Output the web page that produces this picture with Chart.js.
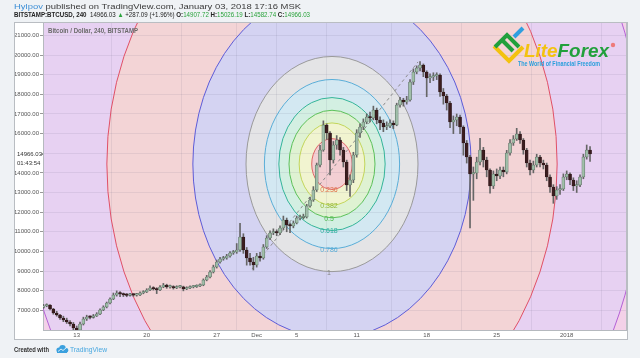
<!DOCTYPE html>
<html>
<head>
<meta charset="utf-8">
<script src="https://cdn.jsdelivr.net/npm/chart.js@4.4.1/dist/chart.umd.min.js"></script>
<style>
  html, body { margin: 0; padding: 0; background: #eff2f5; }
</style>
</head>
<body>
<canvas id="btcChart" width="640" height="358"></canvas>
<script>
// BTCUSD, 8h candles. x values are days since Nov 1 2017
const firstDay = 8.667;
const candleStep = 1 / 3;
const firstOpen = 7150;

const closes = [
  7219, 7270, 7066, 6862, 6760, 6608, 6506, 6404, 6302, 6098,
  5996, 6302, 6557, 6659, 6640, 6710, 6811, 7015, 7168, 7372,
  7576, 7779, 7881, 7830, 7779, 7760, 7790, 7770, 7780, 7881,
  7932, 8034, 8136, 8085, 8034, 8187, 8289, 8187, 8200, 8136,
  8187, 8200, 8085, 8136, 8187, 8200, 8238, 8289, 8543, 8696,
  8951, 9206, 9460, 9613, 9664, 9766, 9919, 9970, 10072, 10734,
  10072, 9664, 9460, 9308, 9766, 9664, 10224, 10683, 10938, 10989,
  10938, 11192, 11600, 11345, 11294, 11447, 11702, 11720, 11753, 12313,
  12619, 13128, 14402, 15166, 16440, 16032, 14657, 15421, 15675, 15166,
  14555, 13383, 13638, 14911, 16032, 16338, 16592, 16847, 16796, 17204,
  16694, 16541, 16338, 16389, 16541, 16440, 17458, 17713, 17611, 17713,
  18630, 19139, 19343, 19496, 19139, 18834, 18885, 18936, 18987, 18121,
  17917, 17560, 16592, 16694, 16847, 16338, 15522, 14809, 13943, 13994,
  14555, 15166, 14657, 14147, 13332, 13943, 13841, 14147, 14045, 15013,
  15522, 15726, 15981, 15675, 15166, 14504, 14147, 14402, 14809, 14504,
  14402, 13790, 13281, 12822, 13128, 13179, 13790, 13943, 13638, 13332,
  13383, 13790, 14809, 15166, 14966
];
const highs = [
  7300, 7330, 7290, 7100, 6950, 6800, 6700, 6600, 6480, 6380,
  6200, 6400, 6650, 6750, 6720, 6790, 6880, 7080, 7230, 7420,
  7640, 7880, 7990, 7950, 7880, 7850, 7860, 7840, 7860, 7940,
  8000, 8100, 8250, 8200, 8150, 8260, 8370, 8330, 8280, 8250,
  8250, 8270, 8230, 8200, 8240, 8260, 8300, 8350, 8600, 8780,
  9020, 9300, 9560, 9700, 9750, 9850, 9990, 10050, 10400, 11430,
  10900, 10200, 9900, 9700, 9900, 9950, 10350, 10800, 11050, 11150,
  11100, 11300, 11800, 11700, 11450, 11550, 11800, 11850, 11900, 12400,
  12750, 13300, 14500, 15400, 16650, 16500, 16100, 15600, 15900, 15800,
  15300, 14650, 13900, 15050, 16200, 16500, 16750, 17000, 17100, 17400,
  17300, 16850, 16700, 16600, 16700, 16650, 17550, 17850, 17800, 17900,
  18750, 19300, 19450, 19666, 19550, 19200, 19050, 19100, 19100, 19050,
  18300, 18000, 17650, 16900, 17000, 16950, 16400, 15650, 14900, 14300,
  14800, 15760, 15300, 14800, 14200, 14100, 14200, 14300, 14300, 15150,
  15700, 15900, 16270, 16100, 15750, 15250, 14650, 14600, 14950, 14900,
  14650, 14500, 13900, 13400, 13300, 13400, 13950, 14100, 14000, 13750,
  13600, 13900, 14950, 15420, 15334
];
const lows = [
  7100, 7180, 7020, 6800, 6700, 6540, 6420, 6330, 6200, 5950,
  5700, 5900, 6250, 6480, 6560, 6600, 6680, 6780, 6980, 7120,
  7330, 7540, 7720, 7700, 7700, 7690, 7720, 7710, 7720, 7750,
  7840, 7900, 8000, 8030, 7850, 8000, 8150, 8120, 8130, 8080,
  8100, 8140, 7990, 8050, 8100, 8140, 8160, 8200, 8250, 8500,
  8650, 8900, 9150, 9400, 9550, 9600, 9700, 9850, 9900, 10000,
  9900, 9300, 9300, 9050, 9200, 9500, 9600, 10150, 10600, 10850,
  10800, 10850, 11100, 11000, 10950, 11200, 11400, 11600, 11650, 11700,
  12250, 12550, 13050, 14300, 15100, 15700, 13900, 14500, 15200, 14900,
  14300, 13100, 12800, 13500, 14800, 15800, 16200, 16500, 16600, 16700,
  16500, 16200, 16100, 16200, 16300, 16250, 16400, 17350, 17400, 17500,
  17650, 18500, 19050, 19200, 18900, 17880, 18600, 18700, 18750, 17900,
  17500, 17200, 16300, 16000, 16400, 16000, 14900, 14500, 11200, 12600,
  13700, 14400, 14300, 13800, 12960, 13200, 13600, 13700, 13800, 13950,
  14900, 15400, 15650, 15500, 14950, 14300, 13900, 14000, 14300, 14300,
  14200, 13600, 13000, 12450, 12650, 12900, 13100, 13650, 13400, 13100,
  13000, 13300, 13700, 14700, 14580
];

const tickDays = [12, 19, 26, 30, 34, 40, 47, 54, 61];
const tickLabels = ['13', '20', '27', 'Dec', '5', '11', '18', '25', '2018'];
const priceTicks = [7000, 8000, 9000, 10000, 11000, 12000, 13000, 14000, 15000, 16000, 17000, 18000, 19000, 20000, 21000];
const lastPrice = 14966.03;

// fib circles: center (day, price), unit radius (days, price)
const fibLevels = [0.236, 0.382, 0.5, 0.618, 0.786, 1, 1.618, 2.618, 3.618, 4.236];
const fibLabels = ['0.236', '0.382', '0.5', '0.618', '0.786', '1', '1.618', '2.618', '3.618', '4.236'];
const fibLineColors = ['#e06666', '#c3d65a', '#5cc15a', '#35b59a', '#5aaed8', '#9a9a9a', '#5e5cd8', '#e05068', '#b460d6', '#e060a8'];
const fibFillColors = ['#f3cfd3', '#f1f4d0', '#dff2d2', '#d3efe2', '#d3e8f2', '#e4e4e6', '#d4d3f2', '#f3d4d6', '#e7d1f2', '#f3d1e8'];
const fibTextColors = ['#e0704a', '#93b83c', '#4bb84a', '#2fb0a0', '#5aaed8', '#888888', '#5e5cd8', '#e05068', '#b460d6', '#e060a8'];
const fibCenter = [37.53, 14450];
const fibRadius = [8.6, 5480];
const trendLine = [[29.53, 9100], [46.13, 19650]];

const upColor = '#a0bea9';
const downColor = '#3b1d1f';
const wickColor = '#666666';
const gridColor = 'rgba(90, 90, 120, 0.10)';
const fontFamily = '"Liberation Sans", Arial, sans-serif';

const candleX = closes.map((c, i) => firstDay + i * candleStep);
const opens = closes.map((c, i) => i === 0 ? firstOpen : closes[i - 1]);

function drawRuns(ctx, runs, x0, y, width) {
  let total = 0;
  runs.forEach(r => { ctx.font = r[1]; total += ctx.measureText(r[0]).width; });
  const k = width / total;
  ctx.save();
  ctx.translate(x0, y);
  ctx.scale(k, 1);
  ctx.textBaseline = 'alphabetic';
  ctx.textAlign = 'left';
  let x = 0;
  runs.forEach(r => {
    ctx.font = r[1];
    ctx.fillStyle = r[2];
    ctx.fillText(r[0], x, 0);
    x += ctx.measureText(r[0]).width;
  });
  ctx.restore();
}

const fibPlugin = {
  id: 'fibCircles',
  beforeDraw(chart) {
    const ctx = chart.ctx, a = chart.chartArea;
    const xs = chart.scales.x, ys = chart.scales.y;
    ctx.save();
    ctx.fillStyle = '#eff2f5';
    ctx.fillRect(0, 0, chart.width, chart.height);
    ctx.fillStyle = '#ffffff';
    ctx.fillRect(14, 22, 614, 318);
    ctx.beginPath();
    ctx.rect(a.left, a.top, a.right - a.left, a.bottom - a.top);
    ctx.clip();
    const cx = xs.getPixelForValue(fibCenter[0]);
    const cy = ys.getPixelForValue(fibCenter[1]);
    const rx = xs.getPixelForValue(fibCenter[0] + fibRadius[0]) - cx;
    const ry = cy - ys.getPixelForValue(fibCenter[1] + fibRadius[1]);
    for (let k = fibLevels.length - 1; k >= 0; k--) {
      ctx.beginPath();
      ctx.ellipse(cx, cy, rx * fibLevels[k], ry * fibLevels[k], 0, 0, Math.PI * 2);
      ctx.fillStyle = fibFillColors[k];
      ctx.fill();
    }
    ctx.restore();
  },
  beforeDatasetsDraw(chart) {
    const ctx = chart.ctx, a = chart.chartArea;
    const xs = chart.scales.x, ys = chart.scales.y;
    const cx = xs.getPixelForValue(fibCenter[0]);
    const cy = ys.getPixelForValue(fibCenter[1]);
    const rx = xs.getPixelForValue(fibCenter[0] + fibRadius[0]) - cx;
    const ry = cy - ys.getPixelForValue(fibCenter[1] + fibRadius[1]);
    ctx.save();
    ctx.beginPath();
    ctx.rect(a.left, a.top, a.right - a.left, a.bottom - a.top);
    ctx.clip();
    ctx.lineWidth = 1;
    for (let k = 0; k < fibLevels.length; k++) {
      ctx.beginPath();
      ctx.ellipse(cx, cy, rx * fibLevels[k], ry * fibLevels[k], 0, 0, Math.PI * 2);
      ctx.strokeStyle = fibLineColors[k];
      ctx.stroke();
    }
    // trend line
    ctx.setLineDash([3, 3]);
    ctx.strokeStyle = '#8c8c8c';
    ctx.beginPath();
    ctx.moveTo(xs.getPixelForValue(trendLine[0][0]), ys.getPixelForValue(trendLine[0][1]));
    ctx.lineTo(xs.getPixelForValue(trendLine[1][0]), ys.getPixelForValue(trendLine[1][1]));
    ctx.stroke();
    ctx.setLineDash([]);
    // level labels at the bottom of each ellipse
    ctx.font = '7px ' + fontFamily;
    ctx.textAlign = 'center';
    ctx.textBaseline = 'middle';
    for (let k = 0; k < fibLevels.length; k++) {
      ctx.fillStyle = fibTextColors[k];
      ctx.fillText(fibLabels[k], cx - 3, cy + ry * fibLevels[k] + 1);
    }
    ctx.restore();
  },
  afterDraw(chart) {
    const ctx = chart.ctx, a = chart.chartArea;
    const ys = chart.scales.y;
    ctx.save();
    // box borders
    ctx.strokeStyle = '#b9bdc2';
    ctx.lineWidth = 1;
    ctx.strokeRect(14.5, 22.5, 613, 317);
    ctx.beginPath();
    ctx.moveTo(a.right + 0.5, a.top);
    ctx.lineTo(a.right + 0.5, a.bottom);
    ctx.stroke();

    // last price label on the axis
    const py = ys.getPixelForValue(lastPrice);
    ctx.fillStyle = '#ffffff';
    ctx.fillRect(15, py - 5, 27, 14);
    ctx.fillStyle = '#333333';
    ctx.font = '6px ' + fontFamily;
    ctx.textAlign = 'left';
    ctx.textBaseline = 'middle';
    ctx.fillText(lastPrice.toFixed(2), 17, py);
    ctx.fillText('01:43:54', 17, py + 9);
    ctx.fillStyle = '#888';
    ctx.fillRect(40, Math.round(py), 3, 1);

    // watermark title
    drawRuns(ctx, [['Bitcoin / Dollar, 240, BITSTAMP', 'bold 7px ' + fontFamily, '#6b6b6b']], 48, 33, 90);

    // header
    const f1 = '8px ' + fontFamily;
    drawRuns(ctx, [
      ['Hylpov', f1, '#3d8fd6'],
      [' published on TradingView.com, January 03, 2018 17:16 MSK', f1, '#3a3a3a']
    ], 14, 8.5, 287);
    const fb = 'bold 7px ' + fontFamily, fn = '7px ' + fontFamily, green = '#2aa33c';
    drawRuns(ctx, [
      ['BITSTAMP:BTCUSD, 240', fb, '#222'],
      ['  14966.03 ', fn, '#222'],
      ['\u25B2', fn, green],
      [' +287.09 (+1.96%) ', fn, '#222'],
      ['O:', fb, '#222'], ['14907.72', fn, green],
      [' H:', fb, '#222'], ['15026.19', fn, green],
      [' L:', fb, '#222'], ['14582.74', fn, green],
      [' C:', fb, '#222'], ['14966.03', fn, green]
    ], 14, 17.3, 296);

    // footer
    drawRuns(ctx, [['Created with', 'bold 7px ' + fontFamily, '#333']], 14, 352, 35);
    ctx.fillStyle = '#3aa0de';
    ctx.beginPath();
    ctx.arc(59, 350, 2.6, 0, Math.PI * 2);
    ctx.arc(62.5, 348.3, 3.2, 0, Math.PI * 2);
    ctx.arc(66, 350.3, 2.4, 0, Math.PI * 2);
    ctx.fill();
    ctx.fillRect(57, 350, 10, 3);
    ctx.strokeStyle = '#ffffff';
    ctx.lineWidth = 0.8;
    ctx.beginPath();
    ctx.moveTo(58, 351.5); ctx.lineTo(61, 349); ctx.lineTo(63, 350.5); ctx.lineTo(66, 348);
    ctx.stroke();
    drawRuns(ctx, [['TradingView', '7px ' + fontFamily, '#48a8e0']], 70, 352, 37);

    // LiteForex logo
    ctx.lineWidth = 4;
    ctx.lineCap = 'butt';
    ctx.lineJoin = 'miter';
    ctx.strokeStyle = '#f3c20f';
    ctx.beginPath();
    ctx.moveTo(494, 46); ctx.lineTo(509, 61); ctx.lineTo(523, 47);
    ctx.stroke();
    ctx.strokeStyle = '#21a03c';
    ctx.beginPath();
    ctx.moveTo(495, 47); ctx.lineTo(507, 35); ctx.lineTo(519, 47);
    ctx.stroke();
    ctx.beginPath();
    ctx.moveTo(502, 40); ctx.lineTo(513, 51);
    ctx.stroke();
    ctx.strokeStyle = '#2f9fe0';
    ctx.beginPath();
    ctx.moveTo(514, 37); ctx.lineTo(523, 28);
    ctx.stroke();
    drawRuns(ctx, [
      ['Lite', 'italic bold 19px ' + fontFamily, '#f3c20f'],
      ['Forex', 'italic bold 19px ' + fontFamily, '#22a03c']
    ], 524, 57, 85);
    drawRuns(ctx, [['The World of Financial Freedom', 'bold 7px ' + fontFamily, '#2a9fdc']], 518, 65.5, 82);
    ctx.fillStyle = '#ee7a7a';
    ctx.beginPath();
    ctx.arc(613, 45, 2.2, 0, Math.PI * 2);
    ctx.fill();
    ctx.restore();
  }
};

new Chart(document.getElementById('btcChart'), {
  type: 'bar',
  data: {
    datasets: [{
      label: 'wick',
      data: candleX.map((x, i) => ({ x: x, y: [lows[i], highs[i]] })),
      backgroundColor: wickColor,
      barThickness: 1,
      grouped: false,
      order: 2
    }, {
      label: 'body',
      data: candleX.map((x, i) => ({ x: x, y: [opens[i], closes[i]] })),
      backgroundColor: closes.map((c, i) => c >= opens[i] ? upColor : downColor),
      borderColor: closes.map((c, i) => c >= opens[i] ? '#52685a' : '#2a1416'),
      borderWidth: 0.6,
      borderSkipped: false,
      barThickness: 3,
      minBarLength: 1.5,
      grouped: false,
      order: 1
    }]
  },
  options: {
    responsive: false,
    animation: false,
    layout: { padding: { left: 14, top: 22, right: 14, bottom: 18 } },
    plugins: {
      legend: { display: false },
      tooltip: { enabled: false }
    },
    scales: {
      x: {
        type: 'linear',
        min: 8.63,
        max: 66.93,
        offset: false,
        afterBuildTicks: s => { s.ticks = tickDays.map(v => ({ value: v })); },
        afterFit: s => { s.height = 10; },
        ticks: {
          autoSkip: false,
          maxRotation: 0,
          padding: 2,
          color: '#555',
          font: { size: 6, family: fontFamily },
          callback: v => tickLabels[tickDays.indexOf(v)]
        },
        grid: { color: gridColor, drawTicks: false },
        border: { display: true, color: '#b5b9be' }
      },
      y: {
        position: 'left',
        min: 5996,
        max: 21686,
        afterBuildTicks: s => { s.ticks = priceTicks.map(v => ({ value: v })); },
        afterFit: s => { s.width = 29; },
        ticks: {
          padding: 1,
          color: '#555',
          font: { size: 6, family: fontFamily },
          callback: v => v === 15000 ? '' : v.toFixed(2)
        },
        grid: { color: gridColor, tickLength: 3, tickColor: '#999' },
        border: { display: true, color: '#b5b9be' }
      }
    }
  },
  plugins: [fibPlugin]
});
</script>
</body>
</html>
